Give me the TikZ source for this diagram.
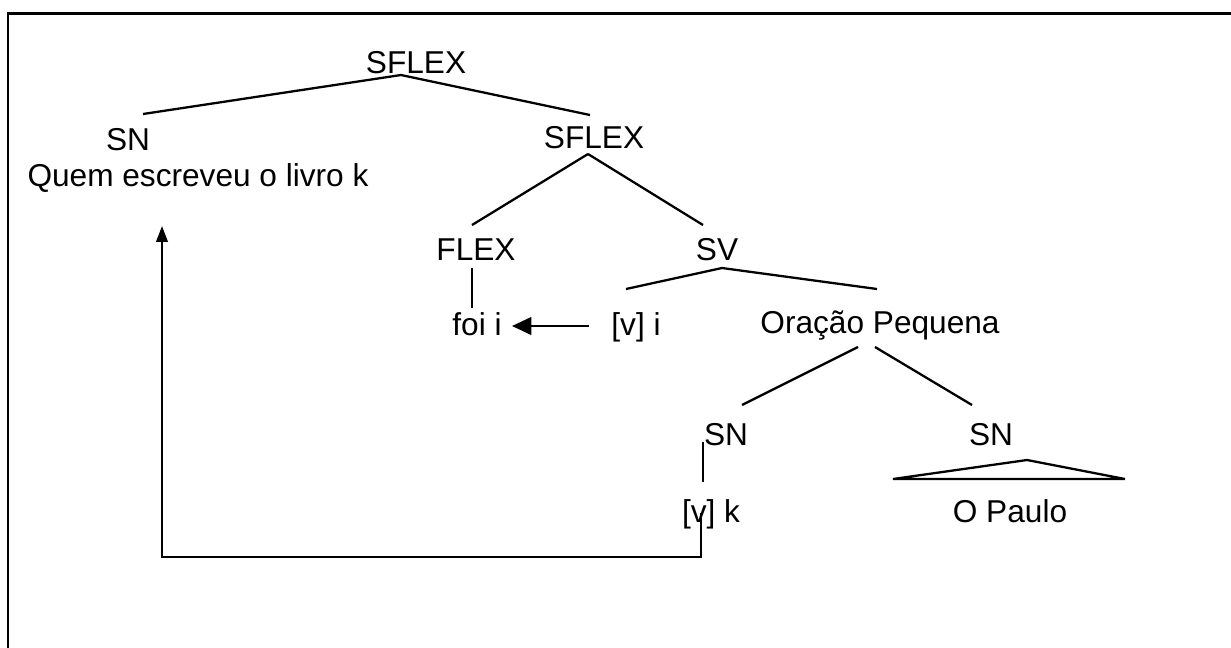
\documentclass[tikz,border=0pt]{standalone}
\usepackage{fontspec}
\setmainfont{Liberation Sans}
\usepackage{tikz}
\usetikzlibrary{%
  arrows.meta, calc, positioning
}
\usepackage{xcolor}
\tikzstyle{cat} = [%
  anchor=base,
  inner sep=0pt,
  text=black,
  font=\fontsize{18pt}{22pt}\selectfont
]

\begin{document}
\begin{tikzpicture}[%
  x=0.02cm, y=-0.02cm,
  >={Triangle[length=11pt,width=10pt]},
  branch/.style={draw=black,line width=1.3pt},
  frame/.style={draw=black,line width=1.7pt}
]
  \useasboundingbox (0,0) rectangle (1231,647);
  \draw[frame] (8,13) rectangle (1260,680);

  % Nodes
  \node[cat] (root)  at (416,73)  {SFLEX};
  \node[cat] (sn1)   at (128,150) {SN};
  \node[cat] (quem)  at (198,186) {Quem escreveu o livro k};
  \node[cat] (sfl2)  at (594,148) {SFLEX};
  \node[cat] (flex)  at (476,260) {FLEX};
  \node[cat] (sv)    at (717,260) {SV};
  \node[cat] (foi)   at (477,335) {foi i};
  \node[cat] (vi)    at (636,335) {[v] i};
  \node[cat] (op)    at (880,333) {Oração Pequena};
  \node[cat] (snl)   at (726,445) {SN};
  \node[cat] (snr)   at (991,445) {SN};
  \node[cat] (vk)    at (711,522) {[v] k};
  \node[cat] (paulo) at (1010,522) {O Paulo};

  % Tree edges
  \draw[branch] ($(root.base)+(-15,2)$) -- ($(sn1.base)+(15,-36)$);
  \draw[branch] ($(root.base)+(-15,2)$) -- ($(sfl2.base)+(-4,-33)$);
  \draw[branch] ($(sfl2.base)+(-6,6)$) -- ($(flex.base)+(-4,-35)$);
  \draw[branch] ($(sfl2.base)+(-6,6)$) -- ($(sv.base)+(-14,-35)$);
  \draw[branch] ($(flex.base)+(-4,8)$) -- ($(foi.base)+(-5,-27)$);
  \draw[branch] ($(sv.base)+(5,8)$) -- ($(vi.base)+(-10,-46)$);
  \draw[branch] ($(sv.base)+(5,8)$) -- ($(op.base)+(-3,-44)$);
  \draw[branch] ($(op.base)+(-22,14)$) -- ($(snl.base)+(16,-40)$);
  \draw[branch] ($(op.base)+(-5,14)$) -- ($(snr.base)+(-19,-40)$);
  \draw[branch] ($(snl.base)+(-23,-3)$) -- ($(vk.base)+(-8,-40)$);
  \draw[branch,line join=miter] ($(snr.base)+(36,15)$) -- ($(paulo.base)+(115,-43)$)
    -- ($(paulo.base)+(-117,-43)$) -- cycle;

  % Movement arrows
  \draw[branch,->] ($(vi.base)+(-47,-9)$) -- ($(foi.base)+(35,-9)$);
  \draw[branch,-{Triangle[length=9pt,width=6.5pt]}] ($(vk.base)+(-10,-9)$) -- ++(0,44)
    -| ($(quem.base)+(-36,40)$);

\end{tikzpicture}
\end{document}
